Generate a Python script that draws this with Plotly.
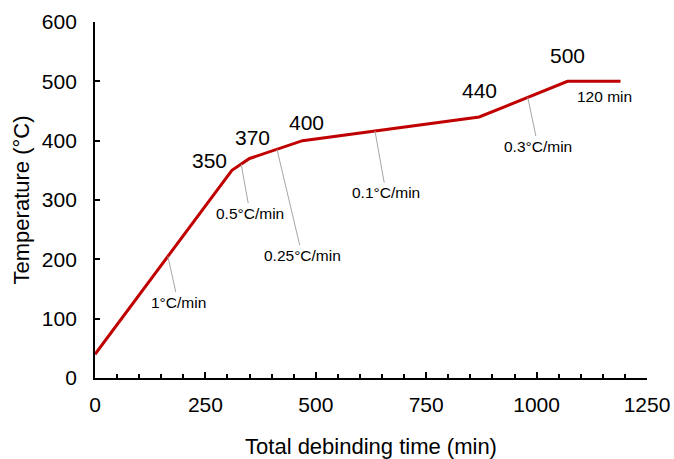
import numpy as np
import plotly.graph_objects as go

# Debinding profile
time_min = [0, 310, 350, 470, 870, 1070, 1190]
temperature_c = [40, 350, 370, 400, 440, 500, 500]

# Set-point labels (text, label x, label y)
setpoint_labels = ["350", "370", "400", "440", "500"]
setpoint_lx = [260, 356, 478, 870, 1071]
setpoint_ly = [366, 405, 431, 484, 543]

# Heating-rate labels (text, point on curve x, label x, label y)
rate_labels = ["1°C/min", "0.5°C/min", "0.25°C/min", "0.1°C/min", "0.3°C/min"]
rate_px = [165, 331, 412, 634, 980]
rate_lx = [188, 351, 469, 659, 1003]
rate_ly = [128, 278, 207, 312, 391]

hold_label = "120 min"
hold_lx, hold_ly = 1153, 474

FONT = "Arial, Liberation Sans, sans-serif"

fig = go.Figure()
fig.add_trace(go.Scatter(
    x=time_min, y=temperature_c, mode="lines",
    line=dict(color="#C00000", width=3), showlegend=False,
))

for t, x, y in zip(setpoint_labels, setpoint_lx, setpoint_ly):
    fig.add_annotation(x=x, y=y, text=t, showarrow=False,
                       font=dict(family=FONT, size=21, color="black"))

for t, px, lx, ly in zip(rate_labels, rate_px, rate_lx, rate_ly):
    py = float(np.interp(px, time_min, temperature_c))
    fig.add_annotation(x=px, y=py, ax=lx, ay=ly, axref="x", ayref="y",
                       text=t, showarrow=True, arrowhead=0, arrowwidth=1,
                       arrowcolor="#A6A6A6", standoff=0,
                       font=dict(family=FONT, size=15.5, color="black"))

fig.add_annotation(x=hold_lx, y=hold_ly, text=hold_label, showarrow=False,
                   font=dict(family=FONT, size=15.5, color="black"))

fig.update_layout(
    width=674, height=459,
    margin=dict(l=95, r=27, t=22, b=81),
    paper_bgcolor="white", plot_bgcolor="white",
    font=dict(family=FONT, color="black"),
    xaxis=dict(
        range=[0, 1250], tickvals=[0, 250, 500, 750, 1000, 1250],
        ticks="inside", ticklen=6, tickwidth=1.5, tickcolor="black",
        showline=True, linecolor="black", linewidth=1.8,
        showgrid=False, zeroline=False, automargin=False,
        tickfont=dict(family=FONT, size=21), ticklabelstandoff=7,
        minor=dict(dtick=50, tick0=0, ticks="inside", ticklen=4,
                   tickwidth=1.5, tickcolor="black", showgrid=False),
        title=dict(text="Total debinding time (min)",
                   font=dict(family=FONT, size=22), standoff=25),
    ),
    yaxis=dict(
        range=[0, 600], tickvals=[0, 100, 200, 300, 400, 500, 600],
        ticks="inside", ticklen=5, tickwidth=1.5, tickcolor="black",
        showline=True, linecolor="black", linewidth=1.8,
        showgrid=False, zeroline=False, automargin=False,
        tickfont=dict(family=FONT, size=21), ticklabelstandoff=12,
        title=dict(text="Temperature (°C)",
                   font=dict(family=FONT, size=22), standoff=6),
    ),
)

fig.write_html("out.html")
